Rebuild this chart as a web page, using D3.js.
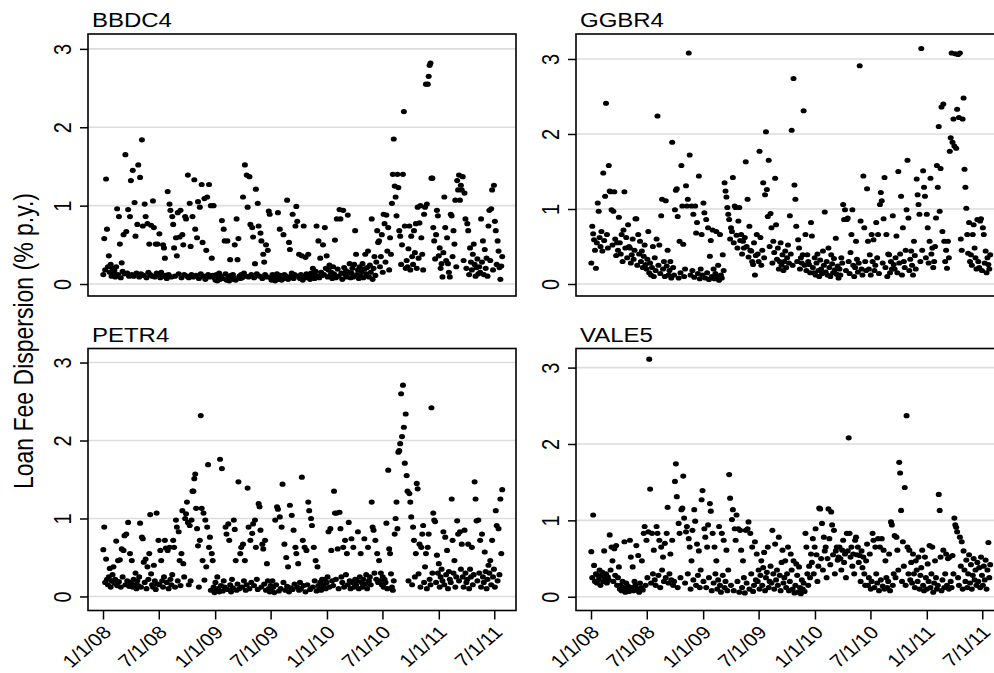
<!DOCTYPE html>
<html>
<head>
<meta charset="utf-8" />
<title>Loan Fee Dispersion</title>
<script src="https://cdn.jsdelivr.net/npm/d3@7"></script>
<style>
body{margin:0;background:#fff;}
svg{display:block;font-family:'Liberation Sans',Arial,Helvetica,sans-serif;}
</style>
</head>
<body>
<div id="chart"></div>
<script type="text/javascript">

var w=994,h=673;

//observations: one value every 3 days from 2 Jan 2008
var startDate='2008-01-02';
var stepDays=3;

var tickDates=['2008-01-01','2008-07-01','2009-01-01','2009-07-01','2010-01-01','2010-07-01','2011-01-01','2011-07-01'];
var yTicks=[0,1,2,3];
var panelNames=['BBDC4','GGBR4','PETR4','VALE5'];
var yTitle='Loan Fee Dispersion (% p.y.)';

var bbdc4=[
0.12,0.58,0.18,1.34,0.70,0.22,0.36,0.15,0.25,0.10,0.20,0.14,0.17,0.09,0.22,0.96,0.12,0.86,0.51,0.08,0.27,0.16,0.63,0.13,1.65,0.67,0.14,0.95,0.10,0.86,
1.32,0.12,1.45,0.10,1.04,0.61,0.14,0.76,1.52,0.09,1.36,0.13,1.84,0.74,0.11,1.02,0.86,0.08,0.77,0.15,0.51,0.12,0.75,0.10,1.06,0.72,0.09,0.51,0.14,0.51,
0.12,0.64,0.08,0.15,0.10,0.50,0.46,0.33,0.11,0.07,1.18,0.12,1.02,0.94,0.09,0.86,0.76,0.46,0.10,0.59,0.36,0.91,0.13,0.60,0.94,0.08,0.63,0.50,0.12,0.86,
0.83,0.10,1.39,0.08,1.03,0.48,0.12,0.86,0.09,1.33,0.70,0.11,0.59,1.05,0.07,0.98,0.13,1.27,0.53,0.10,1.09,0.06,0.43,1.11,0.12,1.27,0.09,1.00,0.33,0.11,
1.00,0.08,0.05,0.12,0.04,0.09,0.14,0.06,0.10,0.81,0.07,0.70,0.55,0.13,0.05,0.55,0.09,0.04,0.31,0.11,0.06,0.12,0.08,0.50,0.05,0.83,0.31,0.58,0.10,0.07,
0.12,0.08,1.11,0.14,1.52,0.10,1.39,0.98,0.09,1.37,0.76,0.12,0.72,0.60,0.08,0.26,1.21,0.13,1.03,0.74,0.10,0.65,0.55,0.07,0.38,0.28,0.12,0.50,0.09,0.43,
0.93,0.89,0.08,0.05,0.12,0.06,0.10,0.04,0.09,0.13,0.91,0.06,0.70,0.11,0.05,0.08,0.63,0.12,0.07,0.10,1.07,0.06,0.53,0.44,0.09,0.14,0.89,0.07,0.12,0.74,
0.99,0.80,0.10,0.38,0.07,0.12,0.36,0.05,0.74,0.09,0.34,0.13,0.08,0.38,0.11,0.06,0.14,0.09,0.20,0.12,0.07,0.16,0.74,0.10,0.55,0.08,0.33,0.15,0.11,0.50,
0.12,0.72,0.20,0.36,0.09,0.18,0.24,0.11,0.15,0.07,0.22,0.13,0.56,0.08,0.83,0.19,0.10,0.95,0.83,0.14,0.06,0.94,0.21,0.12,0.17,0.09,0.88,0.15,0.26,0.08,
0.14,0.20,0.09,0.25,0.68,0.38,0.12,0.18,0.07,0.22,0.10,0.16,0.26,0.08,0.19,0.38,0.13,0.21,0.42,0.09,0.24,0.15,0.83,0.06,0.20,0.35,0.11,0.28,0.68,0.53,
0.55,0.22,0.35,0.63,0.15,0.89,0.77,0.28,0.88,0.42,0.72,0.18,0.59,0.38,1.03,1.40,1.85,1.25,1.11,0.87,1.40,1.23,0.68,0.61,0.25,0.50,1.40,2.20,0.74,0.20,
0.30,0.22,0.45,0.74,0.18,0.61,0.35,0.25,0.68,0.40,0.77,0.20,0.98,0.33,0.78,1.00,0.59,0.38,0.18,0.89,0.98,2.55,1.02,2.55,2.65,2.79,2.82,1.35,1.35,0.72,
0.55,0.32,0.63,0.94,0.87,0.36,0.46,0.20,0.26,0.09,0.40,1.11,0.72,0.30,0.59,0.26,0.15,0.09,0.89,0.87,0.35,0.68,0.51,1.07,0.22,1.32,1.20,1.39,1.07,1.26,
1.20,1.37,0.30,1.16,0.83,0.20,0.77,0.68,0.12,0.46,0.28,0.18,0.38,0.51,0.25,0.10,0.21,0.32,0.13,0.22,0.15,0.83,0.28,0.55,0.12,0.44,0.20,0.33,0.10,0.74,
0.94,0.30,0.96,1.20,0.18,1.26,0.80,0.68,0.25,0.55,0.42,0.21,0.06,0.23,0.35];

var ggbr4=[
0.28,0.77,0.67,0.59,0.45,0.21,0.55,1.08,0.97,0.62,0.50,0.70,0.44,1.48,0.58,1.17,2.41,0.66,0.48,1.58,1.24,1.23,0.99,0.52,0.97,1.23,0.60,0.38,0.55,0.45,
0.89,0.55,0.40,0.66,0.30,0.72,1.23,0.48,0.62,0.35,0.79,0.50,0.48,0.28,0.39,0.60,0.33,0.45,0.87,0.87,0.25,0.66,0.40,0.57,0.30,0.44,0.22,0.37,0.52,0.26,
0.20,0.33,0.70,0.15,0.28,0.12,0.22,0.50,0.10,0.35,0.18,0.60,2.24,0.25,0.52,0.14,0.91,1.13,0.20,0.30,0.10,1.11,0.24,0.45,0.12,0.18,0.30,0.08,1.89,0.22,
0.12,0.99,1.25,1.27,0.90,0.08,0.57,0.15,1.58,1.04,0.53,0.10,0.20,1.31,1.04,1.13,3.08,1.72,0.12,1.04,0.18,0.93,0.09,1.04,0.68,0.82,0.14,1.44,0.07,0.20,
0.66,0.12,1.08,0.95,0.08,0.86,0.15,0.75,0.06,0.37,0.58,0.10,0.72,0.20,0.07,0.14,0.70,0.09,0.25,0.05,0.66,0.12,0.08,0.39,0.18,1.35,1.24,1.16,1.02,0.93,
0.86,0.60,0.75,0.70,1.42,0.55,1.04,1.02,0.65,0.48,0.84,1.02,0.58,0.66,0.40,0.57,0.48,0.62,1.63,0.50,1.13,0.36,0.77,0.45,0.44,0.30,0.26,0.55,0.12,0.38,
0.66,0.40,0.30,1.77,0.62,0.25,0.45,1.35,0.35,1.19,2.03,1.26,0.90,1.65,0.50,0.94,0.75,0.28,0.57,0.42,1.41,0.79,0.33,0.48,0.20,0.30,0.55,0.25,0.39,0.18,
0.30,0.44,0.22,0.35,0.52,0.28,0.91,0.40,2.05,0.25,2.74,1.32,1.13,0.77,0.30,0.59,0.48,0.20,0.35,0.28,0.39,2.31,0.25,0.66,0.18,0.39,0.30,0.26,0.15,0.82,
0.64,0.22,0.15,0.35,0.12,0.28,0.40,0.18,0.10,0.32,0.20,0.14,0.44,0.25,0.96,0.16,0.30,0.12,0.48,0.22,0.10,0.39,0.27,0.15,0.34,0.19,0.61,0.13,0.24,0.08,
0.20,0.12,0.35,0.28,1.06,0.86,0.99,0.18,0.86,0.88,0.30,0.14,0.42,0.66,0.99,0.25,0.10,0.22,0.57,0.33,0.16,0.28,2.91,0.84,0.20,0.12,1.44,0.75,0.30,0.18,
1.27,0.57,0.20,0.39,0.12,0.66,0.30,0.59,0.18,0.25,0.82,0.35,0.66,0.14,1.06,1.22,1.11,0.28,0.87,1.42,0.22,0.66,0.10,0.40,0.39,0.15,0.30,0.20,0.91,0.26,
0.20,0.35,0.64,0.15,1.50,0.28,0.40,1.17,0.12,0.75,0.30,0.22,0.45,0.99,1.65,0.88,0.18,0.33,0.44,0.25,0.12,0.57,0.38,0.20,1.40,1.19,1.06,0.93,0.30,3.14,
0.45,1.51,1.29,1.17,0.35,0.93,0.75,0.28,0.57,1.41,0.40,0.48,0.22,0.30,0.50,0.88,1.58,1.29,2.10,0.97,1.54,2.36,0.70,2.40,0.57,0.30,0.45,0.21,0.57,0.35,
1.77,1.95,3.08,1.89,2.20,1.84,3.07,1.81,2.33,3.06,2.22,3.08,0.60,0.45,2.20,2.48,1.53,1.29,1.01,0.66,0.41,0.82,0.30,0.39,0.25,0.66,0.79,0.48,0.35,0.20,
0.86,0.30,0.22,0.84,0.87,0.18,0.75,0.66,0.28,0.44,0.15,0.35,0.26,0.20,0.39];

var petr4=[
0.60,0.89,0.18,0.48,0.22,0.15,0.25,0.36,0.12,0.20,0.28,0.38,0.17,0.22,0.71,0.14,0.46,0.19,0.47,0.12,0.61,0.25,0.59,0.78,0.15,0.80,0.20,0.95,0.13,0.55,
0.18,0.46,0.12,0.22,0.15,0.30,0.10,0.20,0.14,0.25,0.94,0.12,0.76,0.74,0.44,0.18,0.48,0.10,0.38,0.22,0.55,1.05,0.29,0.15,0.12,0.40,0.20,0.09,1.07,0.16,
0.72,0.15,0.59,0.46,0.20,0.12,0.25,0.72,0.62,0.18,0.59,0.10,0.63,0.22,0.15,0.28,0.72,0.63,0.12,0.98,0.89,0.20,0.83,0.46,0.14,0.55,1.10,0.42,0.25,1.00,
1.06,1.21,0.95,0.15,0.91,0.20,0.98,1.35,1.35,1.51,1.57,1.13,0.87,0.65,0.12,0.72,2.32,1.13,0.46,1.07,0.21,0.98,0.38,0.89,1.69,0.63,0.76,0.08,0.55,0.46,
0.12,0.05,0.18,0.08,0.25,0.10,0.06,1.76,0.14,1.64,0.07,0.20,0.12,0.89,0.80,0.09,0.93,0.72,0.15,0.06,0.22,0.11,0.98,0.86,0.46,0.08,0.16,1.47,0.10,0.55,
0.63,0.12,0.67,0.20,0.46,0.08,0.15,1.39,0.89,0.10,0.72,0.18,0.81,0.93,0.14,0.98,0.63,0.22,0.09,1.19,1.15,0.85,0.12,0.67,0.61,0.16,0.72,0.08,0.42,0.20,
0.10,0.06,0.14,0.08,0.20,0.12,0.05,0.98,0.15,1.15,1.12,0.07,1.02,0.10,0.89,1.44,0.18,0.67,0.08,0.50,0.13,0.38,0.06,1.17,0.11,1.04,0.09,0.85,0.16,0.63,
0.55,0.12,0.42,0.08,0.18,0.10,1.53,0.72,0.14,0.63,0.06,0.59,0.15,1.21,1.10,0.09,1.00,0.91,0.12,0.63,0.20,0.46,0.07,0.38,0.14,0.10,0.18,0.08,0.22,0.12,
0.15,0.22,0.10,0.18,0.25,0.83,0.12,0.87,0.59,0.20,0.14,1.35,1.07,0.22,1.07,0.61,0.10,1.08,0.87,0.25,0.18,0.63,0.12,0.72,0.28,0.55,0.15,0.95,0.20,0.10,
0.74,0.18,0.63,0.12,0.22,0.15,0.20,0.83,0.10,0.25,0.55,0.18,0.12,0.22,0.74,0.16,0.28,0.10,0.63,0.20,0.25,0.15,1.21,0.89,0.85,0.30,0.72,0.22,0.55,0.18,
0.46,0.20,0.30,0.15,0.25,0.12,0.22,0.18,0.94,0.10,1.62,0.61,0.55,0.29,0.12,0.08,0.20,0.80,1.00,1.21,0.87,1.85,1.87,1.96,2.60,2.05,2.71,2.17,1.71,2.34,
1.55,1.35,0.20,1.32,1.21,1.02,0.15,0.89,0.72,0.25,0.55,1.45,1.38,0.29,0.67,0.12,0.63,0.80,0.91,0.18,0.38,0.55,0.10,0.63,0.80,0.22,0.15,2.42,0.30,1.07,
0.98,0.96,0.18,0.53,0.30,0.42,0.12,0.25,0.35,0.20,0.83,0.15,0.76,0.28,0.59,0.10,0.32,0.22,0.18,1.25,0.72,0.30,0.46,0.12,0.25,0.97,0.80,0.20,0.83,0.35,
0.67,0.25,0.12,0.85,0.30,0.18,0.22,0.67,0.10,0.35,0.25,0.63,0.15,0.28,1.47,1.25,0.97,0.20,0.98,0.30,0.72,0.12,0.80,0.25,0.18,0.57,0.32,0.10,0.22,0.40,
0.30,0.46,0.15,0.72,0.25,0.35,0.12,1.10,0.91,0.20,0.87,0.28,1.25,0.55,1.37];

var vale5=[
0.59,0.25,1.07,0.41,0.20,0.30,0.18,0.28,0.22,0.35,0.15,0.27,0.32,0.20,0.60,0.24,0.30,0.18,0.26,0.22,0.81,0.35,0.65,0.47,0.20,0.63,0.28,0.67,0.15,0.25,
0.39,0.10,0.15,0.08,0.20,0.12,0.72,0.06,0.18,0.10,0.14,0.07,0.74,0.52,0.12,0.39,0.08,0.20,0.15,0.67,0.10,0.54,0.06,0.18,0.12,0.47,0.09,0.83,0.92,0.15,
0.74,0.25,0.85,3.11,1.41,0.18,0.83,0.30,0.61,0.22,0.15,0.92,0.83,0.28,0.74,0.12,0.65,0.35,0.52,0.20,0.70,0.25,0.83,1.17,0.18,0.30,0.56,0.22,0.74,0.15,
0.20,1.51,1.74,1.31,0.12,0.96,0.83,0.25,1.14,1.16,1.58,1.03,0.18,0.85,0.92,0.30,0.76,0.65,0.10,0.47,0.87,0.22,1.14,0.99,0.15,0.69,0.28,0.60,0.12,0.35,
1.27,1.39,0.20,0.89,0.78,0.12,0.65,0.94,0.25,1.22,1.12,0.08,0.83,0.18,0.65,0.30,0.47,0.10,0.22,0.92,0.15,0.06,0.83,0.28,0.74,0.12,0.20,0.61,0.08,0.35,
1.60,1.29,0.15,1.01,1.14,0.08,0.89,0.74,1.07,0.20,0.89,0.06,0.87,0.61,0.12,0.47,0.25,0.05,0.87,0.18,0.89,0.98,0.10,0.83,0.30,0.65,0.07,0.15,0.72,0.22,
0.56,0.20,0.35,0.10,0.28,0.47,0.15,0.38,0.58,0.08,0.25,0.32,0.65,0.12,0.20,0.40,0.18,0.87,0.30,0.10,0.69,0.22,0.35,0.15,0.78,0.28,0.08,0.45,0.61,0.18,
0.25,0.47,0.12,0.30,0.65,0.08,0.20,0.56,0.35,0.10,0.47,0.05,0.15,0.43,0.28,0.06,0.39,0.12,0.04,0.22,0.10,0.18,0.07,0.83,0.65,0.30,0.15,0.40,0.25,0.56,
0.45,0.76,0.30,0.65,0.89,0.55,0.20,0.40,1.16,1.15,0.50,0.96,0.35,0.78,0.60,0.65,0.25,0.50,1.15,0.76,0.42,1.11,0.94,0.55,0.87,0.30,0.60,0.65,0.48,0.52,
0.65,0.50,0.35,0.61,0.74,0.45,0.56,0.25,0.83,0.60,2.08,0.83,0.52,0.65,0.40,0.56,0.30,0.74,0.78,0.55,0.65,0.45,0.54,0.20,0.60,0.38,0.52,0.30,0.15,0.47,
0.69,0.15,0.25,0.56,0.10,0.20,0.83,0.74,0.12,0.65,0.30,0.18,0.76,0.08,0.65,0.22,0.76,0.14,0.61,0.10,0.47,0.25,0.12,0.20,0.56,0.08,0.98,0.94,0.15,0.30,
0.80,0.25,0.78,0.61,0.35,1.76,1.62,1.13,0.20,0.72,0.40,1.43,0.15,2.37,0.65,0.30,0.61,0.22,0.45,0.18,0.56,0.30,0.12,0.47,0.35,0.20,0.52,0.10,0.28,0.38,
0.61,0.15,0.08,0.52,0.25,0.10,0.43,0.20,0.67,0.12,0.30,0.65,0.06,0.18,0.47,0.25,0.10,0.15,1.34,1.13,0.52,0.08,0.22,0.61,0.12,0.30,0.56,0.15,0.50,0.10,
0.52,0.20,0.12,0.54,0.30,1.03,0.94,0.91,0.85,0.25,0.15,0.78,0.40,0.72,0.10,0.60,0.35,0.20,0.48,0.12,0.30,0.55,0.18,0.42,0.10,0.28,0.50,0.22,0.35,0.15,
0.45,0.20,0.38,0.12,0.52,0.28,0.15,0.40,0.22,0.48,0.10,0.35,0.71,0.25,0.42];

//版面設定：每個小圖的位置與 y 軸範圍
var panelW=428,panelH=262;
var stretch=1.17; //原圖文字橫向略為拉寬
var panels=[
  {name:panelNames[0],data:bbdc4,left:88,top:34,ymin:-0.153,ymax:3.19,xaxis:false},
  {name:panelNames[1],data:ggbr4,left:576,top:34,ymin:-0.16,ymax:3.333,xaxis:false},
  {name:panelNames[2],data:petr4,left:88,top:348.5,ymin:-0.18,ymax:3.18,xaxis:true},
  {name:panelNames[3],data:vale5,left:576,top:348.5,ymin:-0.18,ymax:3.25,xaxis:true}
];

var parseDay=d3.utcParse('%Y-%m-%d');
var t0=parseDay(startDate);
var fmtTick=d3.utcFormat('%-m/%-d/%y');

var svg=d3.select('#chart')
          .append('svg')
          .attr('width',w)
          .attr('height',h);

var x=d3.scaleUtc()
        .domain([parseDay('2007-11-13'),parseDay('2011-09-10')])
        .range([0,panelW]);

panels.forEach(function(p){
  var y=d3.scaleLinear().domain([p.ymin,p.ymax]).range([panelH,0]);
  var g=svg.append('g').attr('transform','translate('+p.left+','+p.top+')');

  //格線
  g.selectAll('line.grid')
   .data(yTicks)
   .enter()
   .append('line')
   .attr('class','grid')
   .attr('x1',0).attr('x2',panelW)
   .attr('y1',function(d){return y(d);})
   .attr('y2',function(d){return y(d);})
   .attr('stroke','#dddddd')
   .attr('stroke-width',1.6);

  //資料點
  var pts=p.data.map(function(v,i){return {date:d3.utcDay.offset(t0,i*stepDays),v:v};})
                .filter(function(d){return d.v!=null;});
  g.selectAll('ellipse')
   .data(pts)
   .enter()
   .append('ellipse')
   .attr('cx',function(d){return x(d.date);})
   .attr('cy',function(d){return y(d.v);})
   .attr('rx',3.0)
   .attr('ry',2.6)
   .attr('fill','#000');

  //外框
  g.append('rect')
   .attr('width',panelW)
   .attr('height',panelH)
   .attr('fill','none')
   .attr('stroke','#000')
   .attr('stroke-width',1.6);

  //y 軸
  var ya=g.append('g')
          .call(d3.axisLeft(y).tickValues(yTicks).tickSize(8).tickFormat(d3.format('d')));
  ya.select('.domain').remove();
  ya.selectAll('line').attr('stroke','#000').attr('stroke-width',1.5);
  ya.selectAll('text')
    .attr('x',null).attr('dy',null)
    .attr('text-anchor','middle')
    .attr('transform','translate(-17,0) scale('+stretch+',1) rotate(-90)')
    .attr('fill','#000')
    .style('font-size','20px')
    .style('font-family','Liberation Sans, Arial, sans-serif');

  //x 軸（只有下排）
  if(p.xaxis){
    var xa=g.append('g')
            .attr('transform','translate(0,'+panelH+')')
            .call(d3.axisBottom(x).tickValues(tickDates.map(parseDay)).tickSize(9).tickFormat(fmtTick));
    xa.select('.domain').remove();
    xa.selectAll('line').attr('stroke','#000').attr('stroke-width',1.5);
    xa.selectAll('text')
      .attr('y',null).attr('dy',null)
      .attr('text-anchor','end')
      .attr('transform','translate(9,23) scale('+stretch+',1) rotate(-45)')
      .attr('fill','#000')
      .style('font-size','18px')
      .style('font-family','Liberation Sans, Arial, sans-serif');
  }

  //標題
  svg.append('text')
     .attr('transform','translate('+(p.left+4)+','+(p.top-7)+') scale('+stretch+',1)')
     .attr('font-size',20.5)
     .attr('fill','#000')
     .text(p.name);
});

//y 軸標題
svg.append('text')
   .attr('transform','translate(33,341) scale('+stretch+',1) rotate(-90)')
   .attr('text-anchor','middle')
   .attr('font-size',23)
   .attr('fill','#000')
   .text(yTitle);

</script>
</body>
</html>
